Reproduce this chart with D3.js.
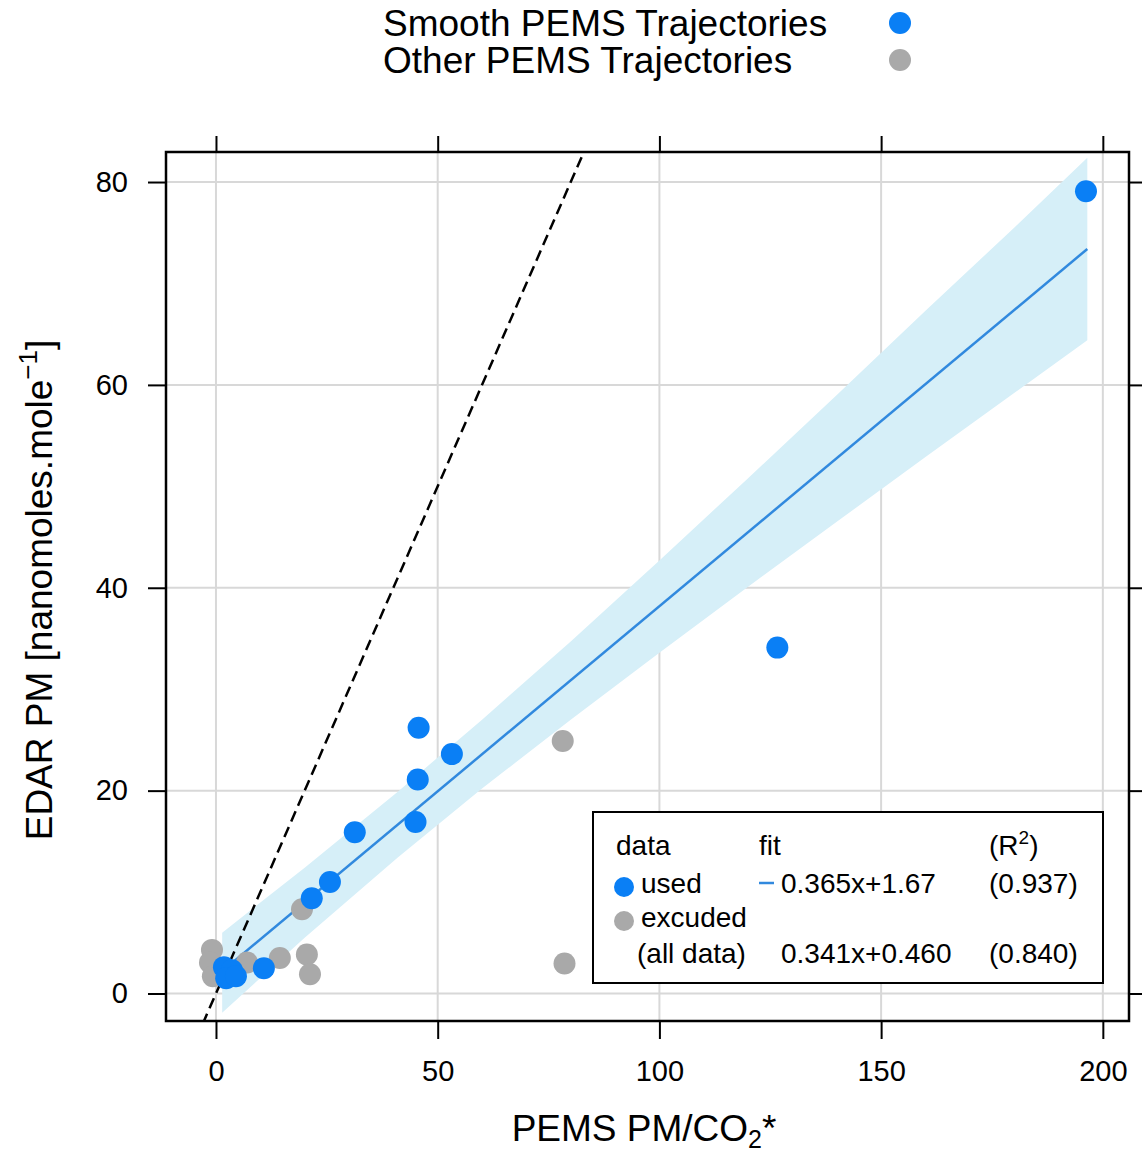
<!DOCTYPE html>
<html lang="en">
<meta charset="utf-8">
<head>
<script src="https://d3js.org/d3.v7.min.js"></script>
<style>
    body { margin: 0; background: #fff; }
    text { font-family: "Liberation Sans", Arial, Helvetica, sans-serif; fill: #000; }
</style>
</head>
<body>
<div id="chart"></div>
<script>
// smooth PEMS trajectories (points used in the fit)
const usedX = [196.2, 126.6, 53.2, 45.7, 45.5, 45.0, 31.3, 25.7, 21.6, 10.8, 1.8, 3.6, 2.3, 4.5];
const usedY = [79.1, 34.1, 23.6, 26.2, 21.1, 16.9, 15.9, 11.0, 9.4, 2.5, 2.6, 2.3, 1.5, 1.7];

// other PEMS trajectories (excluded)
const otherX = [78.2, 78.6, 19.4, 20.5, 21.2, 14.4, 7.0, -0.9, -1.35, -0.7];
const otherY = [24.9, 2.95, 8.3, 3.85, 1.9, 3.5, 3.05, 4.3, 3.05, 1.7];

// fit line and its confidence band
const fitX = [1.4, 196.5];
const fitY = [2.2, 73.4];
const bandX = [1.4, 20, 41, 60, 80, 100, 120, 140, 160, 180, 196.5];
const bandLow = [-1.9, 5.5, 13.4, 20.2, 27.0, 33.6, 40.1, 46.5, 52.9, 59.2, 64.4];
const bandHigh = [6.0, 12.4, 19.9, 27.0, 34.7, 42.7, 50.8, 59.0, 67.3, 75.5, 82.4];

// 1:1 reference line
const refX = [-3, 84];
const refY = [-3, 84];

const xTicks = [0, 50, 100, 150, 200];
const yTicks = [0, 20, 40, 60, 80];

const legendRows = [
    ["used", "0.365x+1.67", "(0.937)"],
    ["excuded", "", ""],
    ["(all data)", "0.341x+0.460", "(0.840)"]
];

const blue = "#0a7ff5";
const grey = "#a9a9a9";
const font = '"Liberation Sans", Arial, Helvetica, sans-serif';

const width = 1142;
const height = 1155;
const box = {left: 166, right: 1129, top: 152, bottom: 1021};

var x = d3.scaleLinear().domain([-11.27, 205.9]).range([box.left, box.right]);
var y = d3.scaleLinear().domain([-2.71, 82.96]).range([box.bottom, box.top]);

var svg = d3.select("#chart")
    .append("svg")
    .attr("width", width)
    .attr("height", height);

svg.append("clipPath")
    .attr("id", "clip")
    .append("rect")
    .attr("x", box.left)
    .attr("y", box.top)
    .attr("width", box.right - box.left)
    .attr("height", box.bottom - box.top);

// grid
svg.append("g").selectAll("line")
    .data(xTicks)
    .enter()
    .append("line")
    .attr("x1", d => x(d)).attr("x2", d => x(d))
    .attr("y1", box.top).attr("y2", box.bottom)
    .attr("stroke", "#d8d8d8")
    .attr("stroke-width", 2);
svg.append("g").selectAll("line")
    .data(yTicks)
    .enter()
    .append("line")
    .attr("y1", d => y(d)).attr("y2", d => y(d))
    .attr("x1", box.left).attr("x2", box.right)
    .attr("stroke", "#d8d8d8")
    .attr("stroke-width", 2);

var plot = svg.append("g").attr("clip-path", "url(#clip)");

// confidence band
var area = d3.area()
    .x((d, i) => x(bandX[i]))
    .y0((d, i) => y(bandLow[i]))
    .y1((d, i) => y(bandHigh[i]));
plot.append("path")
    .datum(bandX)
    .attr("d", area)
    .attr("fill", "#d6eff8");

// 1:1 dashed line
var line = d3.line()
    .x(d => x(d[0]))
    .y(d => y(d[1]));
plot.append("path")
    .datum(d3.zip(refX, refY))
    .attr("d", line)
    .attr("fill", "none")
    .attr("stroke", "#000")
    .attr("stroke-width", 2.5)
    .attr("stroke-dasharray", "11,6");

// fit line
plot.append("path")
    .datum(d3.zip(fitX, fitY))
    .attr("d", line)
    .attr("fill", "none")
    .attr("stroke", "#3189de")
    .attr("stroke-width", 2.5);

// points
plot.append("g").selectAll("circle")
    .data(d3.zip(otherX, otherY))
    .enter()
    .append("circle")
    .attr("cx", d => x(d[0]))
    .attr("cy", d => y(d[1]))
    .attr("r", 11)
    .attr("fill", grey);
plot.append("g").selectAll("circle")
    .data(d3.zip(usedX, usedY))
    .enter()
    .append("circle")
    .attr("cx", d => x(d[0]))
    .attr("cy", d => y(d[1]))
    .attr("r", 11)
    .attr("fill", blue);

// axes (ticks on all four sides, labels left and bottom)
function styleAxis(g) {
    g.select(".domain").remove();
    g.attr("font-size", 29).attr("font-family", font);
    g.selectAll(".tick line").attr("stroke-width", 2);
}
svg.append("g")
    .attr("transform", "translate(" + box.left + ",0)")
    .call(d3.axisLeft(y).tickValues(yTicks).tickSize(18).tickPadding(20))
    .call(styleAxis);
svg.append("g")
    .attr("transform", "translate(" + box.right + ",0)")
    .call(d3.axisRight(y).tickValues(yTicks).tickSize(18).tickFormat(""))
    .call(styleAxis);
svg.append("g")
    .attr("transform", "translate(0," + box.bottom + ")")
    .call(d3.axisBottom(x).tickValues(xTicks).tickSize(18).tickPadding(21))
    .call(styleAxis);
svg.append("g")
    .attr("transform", "translate(0," + box.top + ")")
    .call(d3.axisTop(x).tickValues(xTicks).tickSize(16).tickFormat(""))
    .call(styleAxis);

svg.append("rect")
    .attr("x", box.left)
    .attr("y", box.top)
    .attr("width", box.right - box.left)
    .attr("height", box.bottom - box.top)
    .attr("fill", "none")
    .attr("stroke", "#000")
    .attr("stroke-width", 2.5);

// axis titles
var xt = svg.append("text")
    .attr("x", 644)
    .attr("y", 1141)
    .attr("text-anchor", "middle")
    .attr("font-size", 37);
xt.append("tspan").text("PEMS PM/CO");
xt.append("tspan").attr("dy", 7).attr("font-size", 25).text("2");
xt.append("tspan").attr("dy", -7).text("*");

var yt = svg.append("text")
    .attr("transform", "translate(52,590) rotate(-90)")
    .attr("text-anchor", "middle")
    .attr("font-size", 37);
yt.append("tspan").text("EDAR PM [nanomoles.mole");
yt.append("tspan").attr("dy", -15).attr("font-size", 26).text("\u22121");
yt.append("tspan").attr("dy", 15).text("]");

// top key
var key = svg.append("g");
key.append("text").attr("x", 383).attr("y", 36).attr("font-size", 37).text("Smooth PEMS Trajectories");
key.append("text").attr("x", 383).attr("y", 73).attr("font-size", 37).text("Other PEMS Trajectories");
key.append("circle").attr("cx", 900).attr("cy", 23).attr("r", 11).attr("fill", blue);
key.append("circle").attr("cx", 900).attr("cy", 60).attr("r", 11).attr("fill", grey);

// fit legend box
var lg = svg.append("g").attr("font-size", 28);
lg.append("rect")
    .attr("x", 593).attr("y", 812)
    .attr("width", 510).attr("height", 171)
    .attr("fill", "#fff")
    .attr("stroke", "#000")
    .attr("stroke-width", 2);
lg.append("text").attr("x", 616).attr("y", 855).text("data");
lg.append("text").attr("x", 759).attr("y", 855).text("fit");
var r2 = lg.append("text").attr("x", 989).attr("y", 855);
r2.append("tspan").text("(R");
r2.append("tspan").attr("dy", -11).attr("font-size", 19).text("2");
r2.append("tspan").attr("dy", 11).text(")");

var rowY = [893, 927, 963];
legendRows.forEach(function (row, i) {
    lg.append("text").attr("x", i == 2 ? 637 : 641).attr("y", rowY[i]).text(row[0]);
    lg.append("text").attr("x", 781).attr("y", rowY[i]).text(row[1]);
    lg.append("text").attr("x", 989).attr("y", rowY[i]).text(row[2]);
});
lg.append("circle").attr("cx", 624).attr("cy", 887).attr("r", 10).attr("fill", blue);
lg.append("circle").attr("cx", 624).attr("cy", 921).attr("r", 10).attr("fill", grey);
lg.append("line")
    .attr("x1", 759).attr("x2", 774)
    .attr("y1", 883).attr("y2", 883)
    .attr("stroke", "#3189de")
    .attr("stroke-width", 2.5);
</script>
</body>
</html>
